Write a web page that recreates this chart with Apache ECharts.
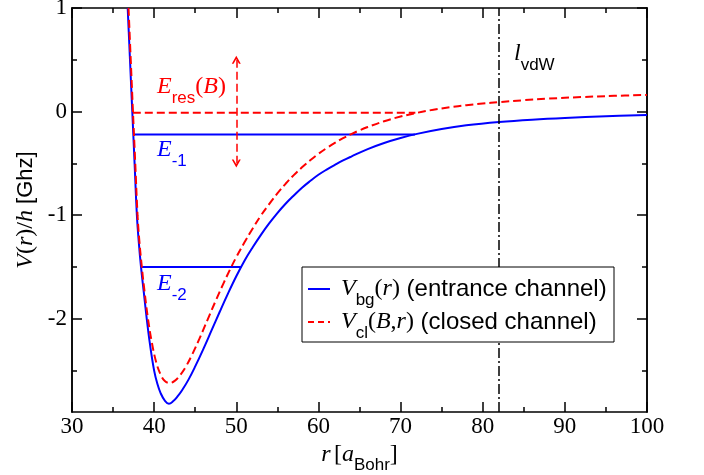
<!DOCTYPE html>
<html><head><meta charset="utf-8">
<script src="https://cdn.jsdelivr.net/npm/echarts@6/dist/echarts.min.js"></script>
<style>html,body{margin:0;padding:0;background:#fff}#c{width:704px;height:475px}</style>
</head><body><div id="c"></div>
<script>
// ---- data ----
const xTicks = [30, 40, 50, 60, 70, 80, 90, 100];
const yMajorTicks = [-2, -1, 0, 1];
const yMinorTicks = [-2.5, -1.5, -0.5, 0.5];
const yRange = [-2.9, 1];

// V_bg(r) entrance channel  [r (a_Bohr), V/h (GHz)]
const bgCurve = [
  [36.78, 1.0], [37.06, 0.5], [37.34, 0.0], [37.62, -0.5], [37.9, -1.0], [38.12, -1.25],
  [38.4, -1.5], [38.75, -1.75], [39.1, -2.0], [39.5, -2.25], [40.0, -2.5], [40.4, -2.63],
  [40.8, -2.72], [41.3, -2.79], [41.8, -2.82], [42.3, -2.797], [42.8, -2.755], [43.4, -2.69],
  [44.2, -2.585], [45.0, -2.46], [46.0, -2.29], [47.0, -2.11], [48.0, -1.93], [49.0, -1.755],
  [50.0, -1.59], [51.0, -1.44], [52.0, -1.31], [53.0, -1.19], [54.0, -1.08], [55.0, -0.98],
  [56.0, -0.89], [57.0, -0.81], [58.0, -0.735], [59.0, -0.67], [60.0, -0.61], [61.0, -0.56],
  [62.0, -0.515], [63.0, -0.472], [64.0, -0.434], [66.0, -0.362], [68.0, -0.303], [70.0, -0.255],
  [72.0, -0.215], [75.0, -0.168], [78.0, -0.133], [82.0, -0.101], [86.0, -0.078], [90.0, -0.061],
  [95.0, -0.045], [100.0, -0.033]
];
// V_cl(B,r) closed channel
const clCurve = [
  [36.88, 1.0], [37.15, 0.5], [37.42, 0.0], [37.7, -0.5], [37.98, -1.0], [38.2, -1.25],
  [38.5, -1.5], [38.85, -1.75], [39.25, -2.0], [39.7, -2.22], [40.25, -2.42], [40.8, -2.54],
  [41.3, -2.6], [41.9, -2.62], [42.5, -2.60], [43.1, -2.55], [43.8, -2.47], [44.6, -2.35],
  [45.5, -2.195], [46.5, -2.01], [47.5, -1.825], [48.5, -1.648], [49.2, -1.531], [50.0, -1.405],
  [51.0, -1.262], [52.0, -1.128], [53.0, -1.003], [54.0, -0.893], [55.0, -0.79], [56.0, -0.697],
  [57.0, -0.613], [58.0, -0.538], [59.0, -0.47], [60.0, -0.408], [61.0, -0.352], [62.0, -0.302],
  [63.0, -0.257], [64.0, -0.217], [65.0, -0.181], [66.0, -0.149], [68.0, -0.093], [70.0, -0.048],
  [72.0, -0.012], [74.0, 0.018], [76.0, 0.042], [78.0, 0.062], [80.0, 0.078], [82.0, 0.092],
  [85.0, 0.110], [88.0, 0.125], [92.0, 0.140], [96.0, 0.152], [100.0, 0.161]
];
const levelE1 = [[37.46, -0.22], [71.75, -0.22]];
const levelE2 = [[38.4, -1.5], [50.62, -1.5]];
const levelEres = [[37.4, -0.01], [71.8, -0.01]];
const resArrow = [[50, 0.5], [50, -0.5]];
const vdWLength = 82;

// ---- styles ----
const SERIF = 'Liberation Serif', SANS = 'Liberation Sans';
const BLUE = '#0000ff', RED = '#ff0000';
function richFor(color, tSize) {
  return {
    i: {fontFamily: SERIF, fontStyle: 'italic', fontSize: 24, color: color, fill: color},
    r: {fontFamily: SERIF, fontSize: 24, color: color, fill: color},
    s: {fontFamily: SANS, fontSize: 17, color: color, fill: color, padding: [22, 0, 0, 0]},
    t: {fontFamily: SANS, fontSize: tSize || 22, color: color, fill: color}
  };
}
const DASH = [8, 4];
const CHEVRON = 'path://M5,0 L10,9 L8,9 L5,3.6 L2,9 L0,9 Z';

const chart = echarts.init(document.getElementById('c'), null, {renderer: 'canvas'});

const axisLine = {show: true, onZero: false, lineStyle: {color: '#000', width: 1.5}};
function xAx(pos, labels) {
  return {
    type: 'value', position: pos, min: xTicks[0], max: xTicks[xTicks.length - 1], interval: 10,
    axisLine: axisLine,
    axisTick: {show: true, inside: true, length: 10, lineStyle: {color: '#000', width: 1.5}},
    minorTick: {show: true, splitNumber: 2, length: 5, lineStyle: {color: '#000', width: 1.5}},
    splitLine: {show: false}, minorSplitLine: {show: false},
    axisLabel: {show: labels, margin: 3, fontFamily: SERIF, fontSize: 23, color: '#000'},
    name: labels ? '{i|r} {r|[}{i|a}{s|Bohr}{r|]}' : '',
    nameLocation: 'middle', nameGap: 23, nameMoveOverlap: false,
    nameTextStyle: {rich: richFor('#000')}
  };
}
function yAx(pos, ticks, len, labels, withName) {
  return {
    type: 'value', position: pos, min: yRange[0], max: yRange[1],
    axisLine: axisLine,
    axisTick: {show: true, inside: true, length: len, customValues: ticks, lineStyle: {color: '#000', width: 1.5}},
    axisLabel: {show: labels, customValues: ticks, margin: 5, fontFamily: SERIF, fontSize: 23, color: '#000'},
    splitLine: {show: false},
    name: withName ? '{i|V}{r|(}{i|r}{r|)/}{i|h}{t| [Ghz]}' : '',
    nameLocation: 'middle', nameGap: 34, nameMoveOverlap: false,
    nameTextStyle: {rich: richFor('#000')}
  };
}

const legendRich = richFor('#000', 24);
const option = {
  animation: false,
  backgroundColor: '#fff',
  grid: {left: 72, right: 57, top: 8, bottom: 63, containLabel: false, outerBoundsMode: 'none'},
  xAxis: [xAx('bottom', true), xAx('top', false)],
  yAxis: [
    yAx('left', yMajorTicks, 10, true, true),
    yAx('left', yMinorTicks, 5, false, false),
    yAx('right', yMajorTicks, 10, false, false),
    yAx('right', yMinorTicks, 5, false, false)
  ],
  series: [
    {name: 'Vbg', type: 'line', data: bgCurve, symbol: 'none', smooth: 0.4,
     lineStyle: {color: BLUE, width: 2}, itemStyle: {color: BLUE}, z: 3},
    {name: 'Vcl', type: 'line', data: clCurve, symbol: 'none', smooth: 0.4,
     lineStyle: {color: RED, width: 2, type: DASH}, itemStyle: {color: RED}, z: 4},
    {name: 'E-1', type: 'line', data: levelE1, symbol: 'none', lineStyle: {color: BLUE, width: 2}},
    {name: 'E-2', type: 'line', data: levelE2, symbol: 'none', lineStyle: {color: BLUE, width: 2}},
    {name: 'Eres', type: 'line', data: levelEres, symbol: 'none', lineStyle: {color: RED, width: 2, type: DASH}},
    {name: 'arrow', type: 'line', data: [], symbol: 'none',
     markLine: {silent: true, symbol: [CHEVRON, CHEVRON], symbolSize: [9, 8], symbolOffset: [0, 0], label: {show: false},
       itemStyle: {color: RED},
       lineStyle: {color: RED, width: 1.5, type: DASH},
       data: [[{coord: resArrow[0]}, {coord: resArrow[1]}]]}},
    {name: 'vdW', type: 'line', data: [], symbol: 'none',
     markLine: {silent: true, symbol: 'none', label: {show: false},
       lineStyle: {color: '#000', width: 1.5, type: [10, 3, 2, 3]},
       data: [{xAxis: vdWLength}]}}
  ],
  graphic: [
    {type: 'text', z: 100, x: 157, y: 87, style: {text: '{i|E}{s|res}{r|(}{i|B}{r|)}', rich: richFor(RED), align: 'left', verticalAlign: 'middle'}},
    {type: 'text', z: 100, x: 157, y: 150, style: {text: '{i|E}{s|-1}', rich: richFor(BLUE), align: 'left', verticalAlign: 'middle'}},
    {type: 'text', z: 100, x: 157, y: 284, style: {text: '{i|E}{s|-2}', rich: richFor(BLUE), align: 'left', verticalAlign: 'middle'}},
    {type: 'text', z: 100, x: 514, y: 54, style: {text: '{i|l}{s|vdW}', rich: richFor('#000'), align: 'left', verticalAlign: 'middle'}},
    // legend
    {type: 'rect', z: 100, shape: {x: 302, y: 267, width: 312, height: 75},
     style: {fill: '#fff', stroke: '#000', lineWidth: 1}},
    {type: 'line', z: 101, shape: {x1: 308, y1: 289, x2: 330, y2: 289}, style: {stroke: BLUE, lineWidth: 2}},
    {type: 'line', z: 101, shape: {x1: 308, y1: 322, x2: 330, y2: 322}, style: {stroke: RED, lineWidth: 2, lineDash: [6, 4]}},
    {type: 'text', z: 101, x: 341, y: 289, style: {text: '{i|V}{s|bg}{r|(}{i|r}{r|)}{t| (entrance channel)}', rich: legendRich, align: 'left', verticalAlign: 'middle'}},
    {type: 'text', z: 101, x: 341, y: 322, style: {text: '{i|V}{s|cl}{r|(}{i|B}{r|,}{i|r}{r|)}{t| (closed channel)}', rich: legendRich, align: 'left', verticalAlign: 'middle'}}
  ]
};
chart.setOption(option);
</script>
</body></html>
